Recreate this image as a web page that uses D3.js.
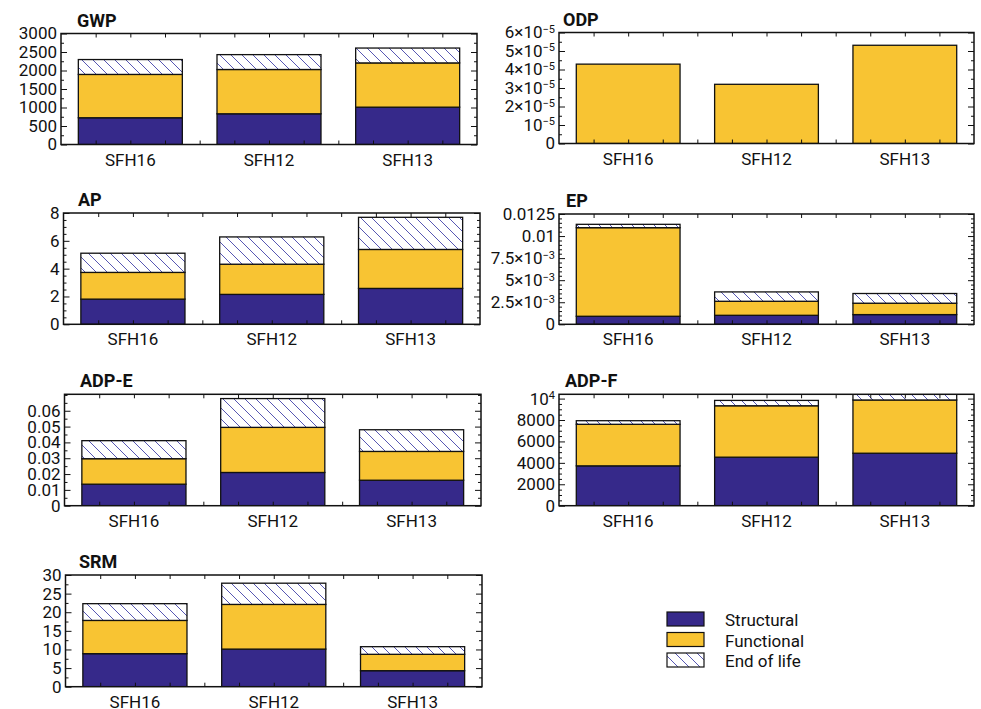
<!DOCTYPE html>
<html><head><meta charset="utf-8">
<script src="https://cdn.jsdelivr.net/npm/d3@7"></script>
<style>body{margin:0;background:#fff} text{font-family:Roboto,"Liberation Sans",sans-serif;fill:#111}</style>
</head><body><svg id="c" width="981" height="709"></svg>
<script>
// ---------- data ----------
const categories = ["SFH16", "SFH12", "SFH13"];
const seriesNames = ["Structural", "Functional", "End of life"];

const gwpStructural = [723, 830, 1009];
const gwpFunctional = [1171, 1197, 1196];
const gwpEndOfLife  = [402, 402, 402];

const odpStructural = [0, 0, 0];
const odpFunctional = [4.29e-5, 3.2e-5, 5.31e-5];
const odpEndOfLife  = [0, 0, 0];

const apStructural = [1.81, 2.15, 2.58];
const apFunctional = [1.92, 2.17, 2.80];
const apEndOfLife  = [1.38, 1.96, 2.31];

const epStructural = [0.00091, 0.00102, 0.00110];
const epFunctional = [0.01004, 0.00159, 0.00129];
const epEndOfLife  = [0.00038, 0.00106, 0.00110];

const adpeStructural = [0.0136, 0.0210, 0.0161];
const adpeFunctional = [0.0161, 0.0285, 0.0182];
const adpeEndOfLife  = [0.0114, 0.0182, 0.0137];

const adpfStructural = [3720, 4530, 4900];
const adpfFunctional = [3880, 4800, 4970];
const adpfEndOfLife  = [335, 500, 600];

const srmStructural = [8.87, 10.1, 4.3];
const srmFunctional = [8.93, 12.0, 4.4];
const srmEndOfLife  = [4.5, 5.7, 2.05];

// tick values and labels ("^" marks a superscript)
const gwpTicks = [0, 500, 1000, 1500, 2000, 2500, 3000];
const gwpLabels = ["0", "500", "1000", "1500", "2000", "2500", "3000"];
const odpTicks = [0, 1e-5, 2e-5, 3e-5, 4e-5, 5e-5, 6e-5];
const odpLabels = ["0", "10^\u22125", "2\u00d710^\u22125", "3\u00d710^\u22125", "4\u00d710^\u22125", "5\u00d710^\u22125", "6\u00d710^\u22125"];
const apTicks = [0, 2, 4, 6, 8];
const apLabels = ["0", "2", "4", "6", "8"];
const epTicks = [0, 0.0025, 0.005, 0.0075, 0.01, 0.0125];
const epLabels = ["0", "2.5\u00d710^\u22123", "5\u00d710^\u22123", "7.5\u00d710^\u22123", "0.01", "0.0125"];
const adpeTicks = [0, 0.01, 0.02, 0.03, 0.04, 0.05, 0.06];
const adpeLabels = ["0", "0.01", "0.02", "0.03", "0.04", "0.05", "0.06"];
const adpfTicks = [0, 2000, 4000, 6000, 8000, 10000];
const adpfLabels = ["0", "2000", "4000", "6000", "8000", "10^4"];
const srmTicks = [0, 5, 10, 15, 20, 25, 30];
const srmLabels = ["0", "5", "10", "15", "20", "25", "30"];

// ---------- layout ----------
const panels = [
  {title:"GWP",   tx:77,  data:[gwpStructural,gwpFunctional,gwpEndOfLife],   ticks:gwpTicks,  labels:gwpLabels,  yMax:3000,   minor:250,
   left:61, right:477, top:33.5, bottom:144.5},
  {title:"ODP",   tx:563, data:[odpStructural,odpFunctional,odpEndOfLife],   ticks:odpTicks,  labels:odpLabels,  yMax:6e-5,   minor:5e-6,
   left:559, right:974, top:32.5, bottom:143.5},
  {title:"AP",    tx:78,  data:[apStructural,apFunctional,apEndOfLife],      ticks:apTicks,   labels:apLabels,   yMax:8,      minor:0.5,
   left:63.5, right:480, top:213, bottom:324.3},
  {title:"EP",    tx:566, data:[epStructural,epFunctional,epEndOfLife],      ticks:epTicks,   labels:epLabels,   yMax:0.0125, minor:0.0005,
   left:559, right:974, top:214, bottom:324.3},
  {title:"ADP-E", tx:80,  data:[adpeStructural,adpeFunctional,adpeEndOfLife],ticks:adpeTicks, labels:adpeLabels, yMax:0.0704, minor:0.005,
   left:64.5, right:481, top:394.3, bottom:505.7},
  {title:"ADP-F", tx:565, data:[adpfStructural,adpfFunctional,adpfEndOfLife],ticks:adpfTicks, labels:adpfLabels, yMax:10400,  minor:500,
   left:559, right:974, top:394.3, bottom:505.7},
  {title:"SRM",   tx:79,  data:[srmStructural,srmFunctional,srmEndOfLife],   ticks:srmTicks,  labels:srmLabels,  yMax:30,     minor:2.5,
   left:65.5, right:482, top:575, bottom:686.7}
];

const fills = ["#36298a", "#f8c433", "url(#hatch)"];

const svg = d3.select("#c");
const defs = svg.append("defs");
const H = 11;
const hp = defs.append("pattern").attr("id","hatch").attr("patternUnits","userSpaceOnUse")
  .attr("width",H).attr("height",H);
hp.append("rect").attr("width",H).attr("height",H).attr("fill","#fff");
hp.append("path").attr("d",`M-1,-1L${H+1},${H+1}M-1,${H-1}L1,${H+1}M${H-1},-1L${H+1},1`)
  .attr("stroke","#4444aa").attr("stroke-width",0.9);

function supText(sel){
  sel.each(function(){
    const t = d3.select(this); const s = t.text();
    if (s.includes("^")) {
      const [a,b] = s.split("^");
      t.text(null);
      t.append("tspan").text(a);
      t.append("tspan").attr("dy","-0.5em").attr("font-size","11px").text(b);
    }
  });
}
function cleanAxis(g){ g.select(".domain").remove(); g.selectAll("line").attr("stroke","#111").attr("stroke-width",1); }

panels.forEach((p, i) => {
  const g = svg.append("g");
  const x = d3.scaleBand().domain(categories).range([p.left, p.right]).paddingInner(0.25).paddingOuter(0.125);
  const xq = d3.scaleLinear().domain([0, 12]).range([p.left, p.right]);
  const y = d3.scaleLinear().domain([0, p.yMax]).range([p.bottom, p.top]);

  const rows = categories.map((c, j) => {
    const r = {cat: c};
    seriesNames.forEach((s, k) => r[s] = p.data[k][j]);
    return r;
  });
  const stack = d3.stack().keys(seriesNames)(rows);

  const cid = "clip" + i;
  defs.append("clipPath").attr("id", cid).append("rect")
    .attr("x", p.left).attr("y", p.top).attr("width", p.right - p.left).attr("height", p.bottom - p.top);

  const bars = g.append("g").attr("clip-path", `url(#${cid})`);
  stack.forEach((layer, k) => {
    bars.selectAll(null).data(layer.filter(d => d[1] - d[0] > 0)).enter().append("rect")
      .attr("x", d => x(d.data.cat))
      .attr("width", x.bandwidth())
      .attr("y", d => y(d[1]))
      .attr("height", d => y(d[0]) - y(d[1]))
      .attr("fill", fills[k])
      .attr("stroke", "#111").attr("stroke-width", 1.3);
  });

  const nMin = Math.floor(p.yMax / p.minor + 1e-9);
  const minors = d3.range(0, nMin + 1).map(k => k * p.minor)
    .filter(v => !p.ticks.some(t => Math.abs(t - v) < p.minor * 1e-3));

  const la = g.append("g").attr("transform", `translate(${p.left},0)`)
    .call(d3.axisLeft(y).tickValues(p.ticks).tickSize(-6).tickPadding(4).tickFormat((d, k) => p.labels[k]));
  cleanAxis(la);
  la.selectAll("text").attr("font-size", 17).attr("fill", "#111");
  supText(la.selectAll("text"));
  const lm = g.append("g").attr("transform", `translate(${p.left},0)`)
    .call(d3.axisLeft(y).tickValues(minors).tickSize(-3).tickFormat(""));
  cleanAxis(lm);
  const ra = g.append("g").attr("transform", `translate(${p.right},0)`)
    .call(d3.axisRight(y).tickValues(p.ticks).tickSize(-6).tickFormat(""));
  cleanAxis(ra);
  const rm = g.append("g").attr("transform", `translate(${p.right},0)`)
    .call(d3.axisRight(y).tickValues(minors).tickSize(-3).tickFormat(""));
  cleanAxis(rm);

  const ba = g.append("g").attr("transform", `translate(0,${p.bottom})`)
    .call(d3.axisBottom(xq).tickValues(d3.range(1, 12)).tickSize(-4).tickFormat(""));
  cleanAxis(ba);
  const ta = g.append("g").attr("transform", `translate(0,${p.top})`)
    .call(d3.axisTop(xq).tickValues(d3.range(1, 12)).tickSize(-4).tickFormat(""));
  cleanAxis(ta);

  const ca = g.append("g").attr("transform", `translate(0,${p.bottom})`)
    .call(d3.axisBottom(x).tickSize(0).tickPadding(9));
  ca.select(".domain").remove();
  ca.selectAll("text").attr("font-size", 17).attr("fill", "#111");

  g.append("rect").attr("x", p.left).attr("y", p.top).attr("width", p.right - p.left).attr("height", p.bottom - p.top)
    .attr("fill", "none").attr("stroke", "#111").attr("stroke-width", 1.5);

  g.append("text").attr("x", p.tx).attr("y", p.top - 7).attr("font-size", 18).attr("font-weight", "bold").text(p.title);
});

// legend
const lg = svg.append("g");
seriesNames.forEach((s, k) => {
  const yy = 612 + k * 20.5;
  lg.append("rect").attr("x", 667).attr("y", yy).attr("width", 37).attr("height", 14)
    .attr("fill", fills[k]).attr("stroke", "#111").attr("stroke-width", 1.2);
  lg.append("text").attr("x", 725).attr("y", yy + 14).attr("font-size", 17).text(s);
});
</script></body></html>
